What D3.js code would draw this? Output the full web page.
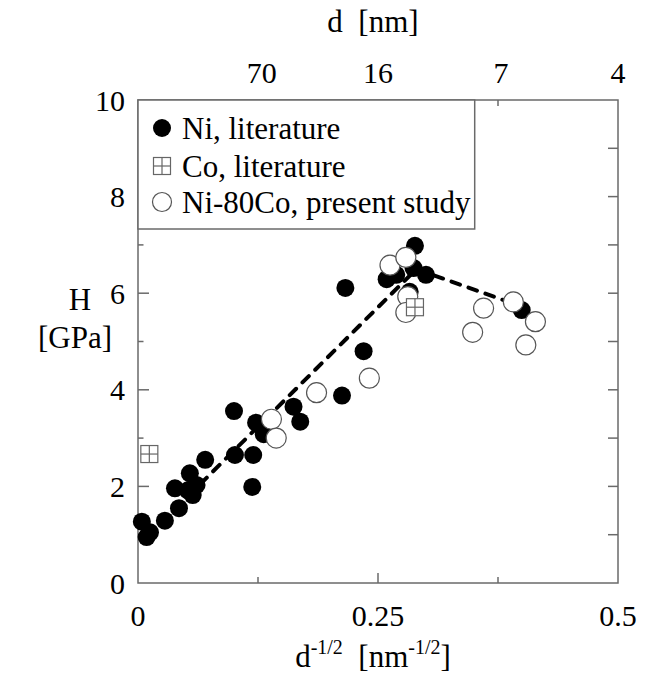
<!DOCTYPE html>
<html><head><meta charset="utf-8">
<script src="https://cdn.jsdelivr.net/npm/d3@7"></script>
<style>body{margin:0;background:#fff}svg{display:block}text{font-family:"Liberation Serif","Times New Roman",serif;fill:#000}</style>
</head><body><div id="chart"></div>
<script>
// Ni, literature: [d^-1/2, H]
const niX = [0.004,0.009,0.0125,0.028,0.0427,0.0385,0.054,0.057,0.061,0.052,0.070,0.101,0.120,0.119,0.100,0.123,0.131,0.162,0.169,0.2125,0.216,0.235,0.2885,0.259,0.269,0.287,0.300,0.283,0.3997];
const niY = [1.27,0.95,1.05,1.29,1.55,1.96,2.27,1.82,2.03,1.92,2.55,2.65,2.65,1.99,3.56,3.32,3.08,3.65,3.34,3.88,6.11,4.80,6.98,6.29,6.38,6.52,6.38,6.03,5.65];
// Co, literature
const coX = [0.0118,0.2885];
const coY = [2.67,5.71];
// Ni-80Co, present study
const nicoX = [0.139,0.144,0.186,0.241,0.2625,0.279,0.281,0.279,0.360,0.3486,0.391,0.414,0.404];
const nicoY = [3.39,3.00,3.94,4.24,6.58,6.74,5.93,5.60,5.69,5.19,5.82,5.41,4.93];
// dashed trend line
const trendX = [0.065,0.290,0.400];
const trendY = [2.05,6.50,5.72];
// axes
const xTicks = [0,0.25,0.5];
const xMinor = [0.125,0.375];
const yTicks = [0,2,4,6,8,10];
const yMinor = [1,3,5,7,9];
const topLabels = ["70","16","7","4"];
const topLabelPos = [0.129,0.25,0.378,0.5];
const legendLabels = ["Ni, literature","Co, literature","Ni-80Co, present study"];

const W=648,H=679;
const svg=d3.select("#chart").append("svg").attr("width",W).attr("height",H);
const x=d3.scaleLinear().domain([0,0.5]).range([138,618]);
const y=d3.scaleLinear().domain([0,10]).range([583,100]);
const axisCol="#6a6a6a";
const FS=30, FL=31;

// frame ticks
const g=svg.append("g");
function tick(x1,y1,x2,y2){g.append("line").attr("x1",x1).attr("y1",y1).attr("x2",x2).attr("y2",y2).attr("stroke",axisCol).attr("stroke-width",1.5);}
yTicks.forEach(v=>{ if(v>0&&v<10){tick(x(0),y(v),x(0)+11,y(v)); tick(x(0.5),y(v),x(0.5)-10,y(v));}});
yMinor.forEach(v=>{tick(x(0),y(v),x(0)+5.5,y(v)); tick(x(0.5),y(v),x(0.5)-10,y(v));});
xTicks.forEach(v=>{ if(v>0&&v<0.5){tick(x(v),y(0),x(v),y(0)-10); tick(x(v),y(10),x(v),y(10)+10);}});
xMinor.forEach(v=>{tick(x(v),y(0),x(v),y(0)-6); tick(x(v),y(10),x(v),y(10)+6);});
svg.append("rect").attr("x",x(0)).attr("y",y(10)).attr("width",x(0.5)-x(0)).attr("height",y(0)-y(10))
  .attr("fill","none").attr("stroke",axisCol).attr("stroke-width",1.5);

// tick labels
svg.selectAll(".yl").data(yTicks).join("text").attr("x",125).attr("y",d=>y(d)+10.5).attr("text-anchor","end").attr("font-size",FS).text(d=>d);
svg.selectAll(".xl").data(xTicks).join("text").attr("x",d=>x(d)).attr("y",626).attr("text-anchor","middle").attr("font-size",FS).text(d=>d);
svg.selectAll(".tl").data(topLabels).join("text").attr("x",(d,i)=>x(topLabelPos[i])).attr("y",83).attr("text-anchor","middle").attr("font-size",FS).text(d=>d);

// axis titles
const xt=svg.append("text").attr("x",373).attr("y",667).attr("text-anchor","middle").attr("font-size",FL);
xt.append("tspan").text("d");
xt.append("tspan").attr("font-size",20).attr("dy",-13).text("-1/2");
xt.append("tspan").attr("dy",13).text("\u00a0 [nm");
xt.append("tspan").attr("font-size",20).attr("dy",-13).text("-1/2");
xt.append("tspan").attr("dy",13).text("]");
svg.append("text").attr("x",373).attr("y",32).attr("text-anchor","middle").attr("font-size",FL).text("d\u00a0 [nm]");
svg.append("text").attr("x",80).attr("y",310).attr("text-anchor","middle").attr("font-size",FL).text("H");
svg.append("text").attr("x",75).attr("y",348).attr("text-anchor","middle").attr("font-size",FL).text("[GPa]");

// markers
const ni=niX.map((v,i)=>[v,niY[i]]);
const co=coX.map((v,i)=>[v,coY[i]]);
const nico=nicoX.map((v,i)=>[v,nicoY[i]]);
const plot=svg.append("g");
plot.selectAll(".ni").data(ni).join("circle").attr("cx",d=>x(d[0])).attr("cy",d=>y(d[1])).attr("r",9).attr("fill","#000");
const line=d3.line().x(d=>x(d[0])).y(d=>y(d[1]));
plot.append("path").attr("d",line(trendX.map((v,i)=>[v,trendY[i]]))).attr("fill","none").attr("stroke","#000")
  .attr("stroke-width",4).attr("stroke-dasharray","9,9").attr("stroke-linecap","round");
plot.selectAll(".nico").data(nico).join("circle").attr("cx",d=>x(d[0])).attr("cy",d=>y(d[1])).attr("r",10)
  .attr("fill","#fff").attr("stroke","#555").attr("stroke-width",1.2);
function coMark(sel,cx,cy){
  const s=8.5;
  sel.append("rect").attr("x",cx-s).attr("y",cy-s).attr("width",2*s).attr("height",2*s).attr("fill","#fff").attr("stroke","#666").attr("stroke-width",1.2);
  sel.append("line").attr("x1",cx).attr("x2",cx).attr("y1",cy-s).attr("y2",cy+s).attr("stroke","#666").attr("stroke-width",1.2);
  sel.append("line").attr("x1",cx-s).attr("x2",cx+s).attr("y1",cy).attr("y2",cy).attr("stroke","#666").attr("stroke-width",1.2);
}
co.forEach(d=>coMark(plot,x(d[0]),y(d[1])));

// legend
const lg=svg.append("g");
lg.append("rect").attr("x",x(0)).attr("y",y(10)).attr("width",474.7-x(0)).attr("height",229-y(10)).attr("fill","#fff").attr("stroke",axisCol).attr("stroke-width",1.5);
const rows=[128,166,202];
lg.append("circle").attr("cx",162).attr("cy",rows[0]).attr("r",9).attr("fill","#000");
coMark(lg,162,rows[1]);
lg.append("circle").attr("cx",162).attr("cy",rows[2]).attr("r",9.5).attr("fill","#fff").attr("stroke","#555").attr("stroke-width",1.2);
lg.selectAll(".lt").data(legendLabels).join("text").attr("x",182).attr("y",(d,i)=>rows[i]+10.5).attr("font-size",FL).text(d=>d);
</script></body></html>
